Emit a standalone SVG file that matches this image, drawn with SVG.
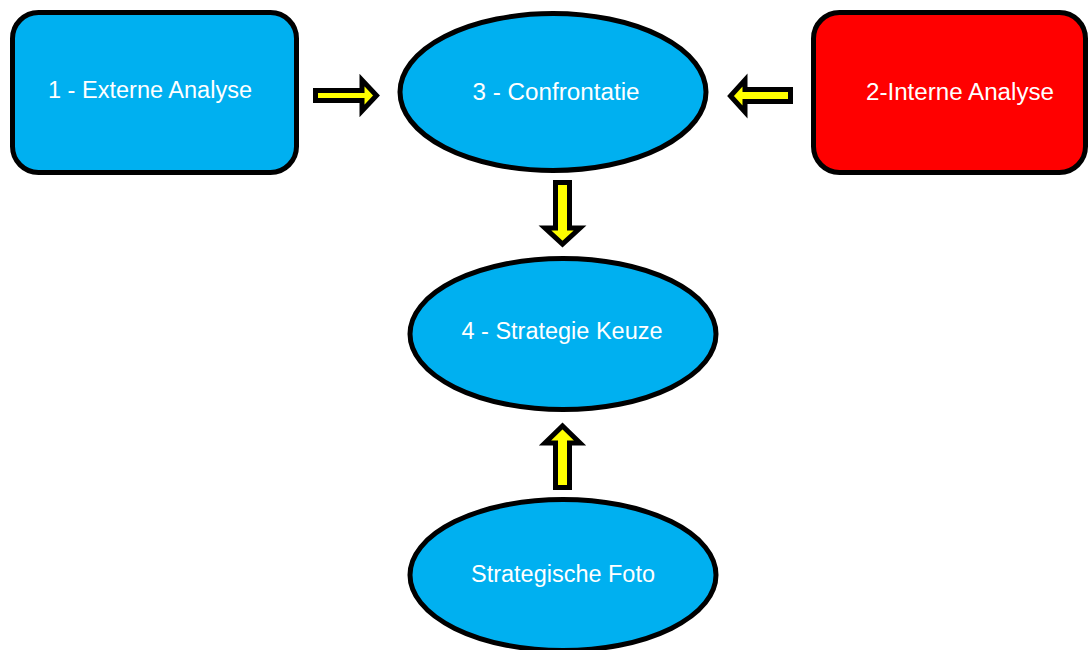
<svg xmlns="http://www.w3.org/2000/svg" width="1089" height="650" viewBox="0 0 1089 650">
<style>
.node{stroke:#000;stroke-width:5}
.blue{fill:#00B0F0}
.red{fill:#FF0000}
.lbl{font-family:"Liberation Sans","DejaVu Sans",sans-serif;font-size:23px;fill:#fff;text-anchor:middle;dominant-baseline:central}
.arr{fill:#FFFF00;stroke:#000;stroke-width:5;stroke-linejoin:miter}
</style>
<rect width="1089" height="650" fill="#fff"/>
<g id="n1">
<rect class="node blue" x="12.5" y="12.5" width="284" height="160" rx="26"/>
<text class="lbl" x="150" y="90" textLength="204" lengthAdjust="spacingAndGlyphs">1 - Externe Analyse</text>
</g>
<g id="n2">
<rect class="node red" x="813.5" y="12.5" width="272" height="160" rx="26"/>
<text class="lbl" x="960" y="92" textLength="188" lengthAdjust="spacingAndGlyphs">2-Interne Analyse</text>
</g>
<g id="n3">
<ellipse class="node blue" cx="553" cy="92" rx="153" ry="78.5"/>
<text class="lbl" x="556" y="92" textLength="167" lengthAdjust="spacingAndGlyphs">3 - Confrontatie</text>
</g>
<g id="n4">
<ellipse class="node blue" cx="563" cy="334" rx="153" ry="75.5"/>
<text class="lbl" x="562" y="331" textLength="201" lengthAdjust="spacingAndGlyphs">4 - Strategie Keuze</text>
</g>
<g id="n5">
<ellipse class="node blue" cx="563" cy="575" rx="153" ry="75.5"/>
<text class="lbl" x="563" y="574" textLength="184" lengthAdjust="spacingAndGlyphs">Strategische Foto</text>
</g>
<g id="connectors">
<path class="arr" d="M315.5,90.5 L362,90.5 L362,80 L376.5,95.5 L362,111 L362,100.5 L315.5,100.5 Z"/>
<path class="arr" d="M790.5,89.5 L745,89.5 L745,80 L730.5,96 L745,112 L745,101.5 L790.5,101.5 Z"/>
<path class="arr" d="M555.5,182.5 L569.5,182.5 L569.5,228 L580,228 L562.5,244 L545,228 L555.5,228 Z"/>
<path class="arr" d="M555.5,487.5 L569.5,487.5 L569.5,443 L580,443 L562.5,426 L545,443 L555.5,443 Z"/>
</g>
</svg>
